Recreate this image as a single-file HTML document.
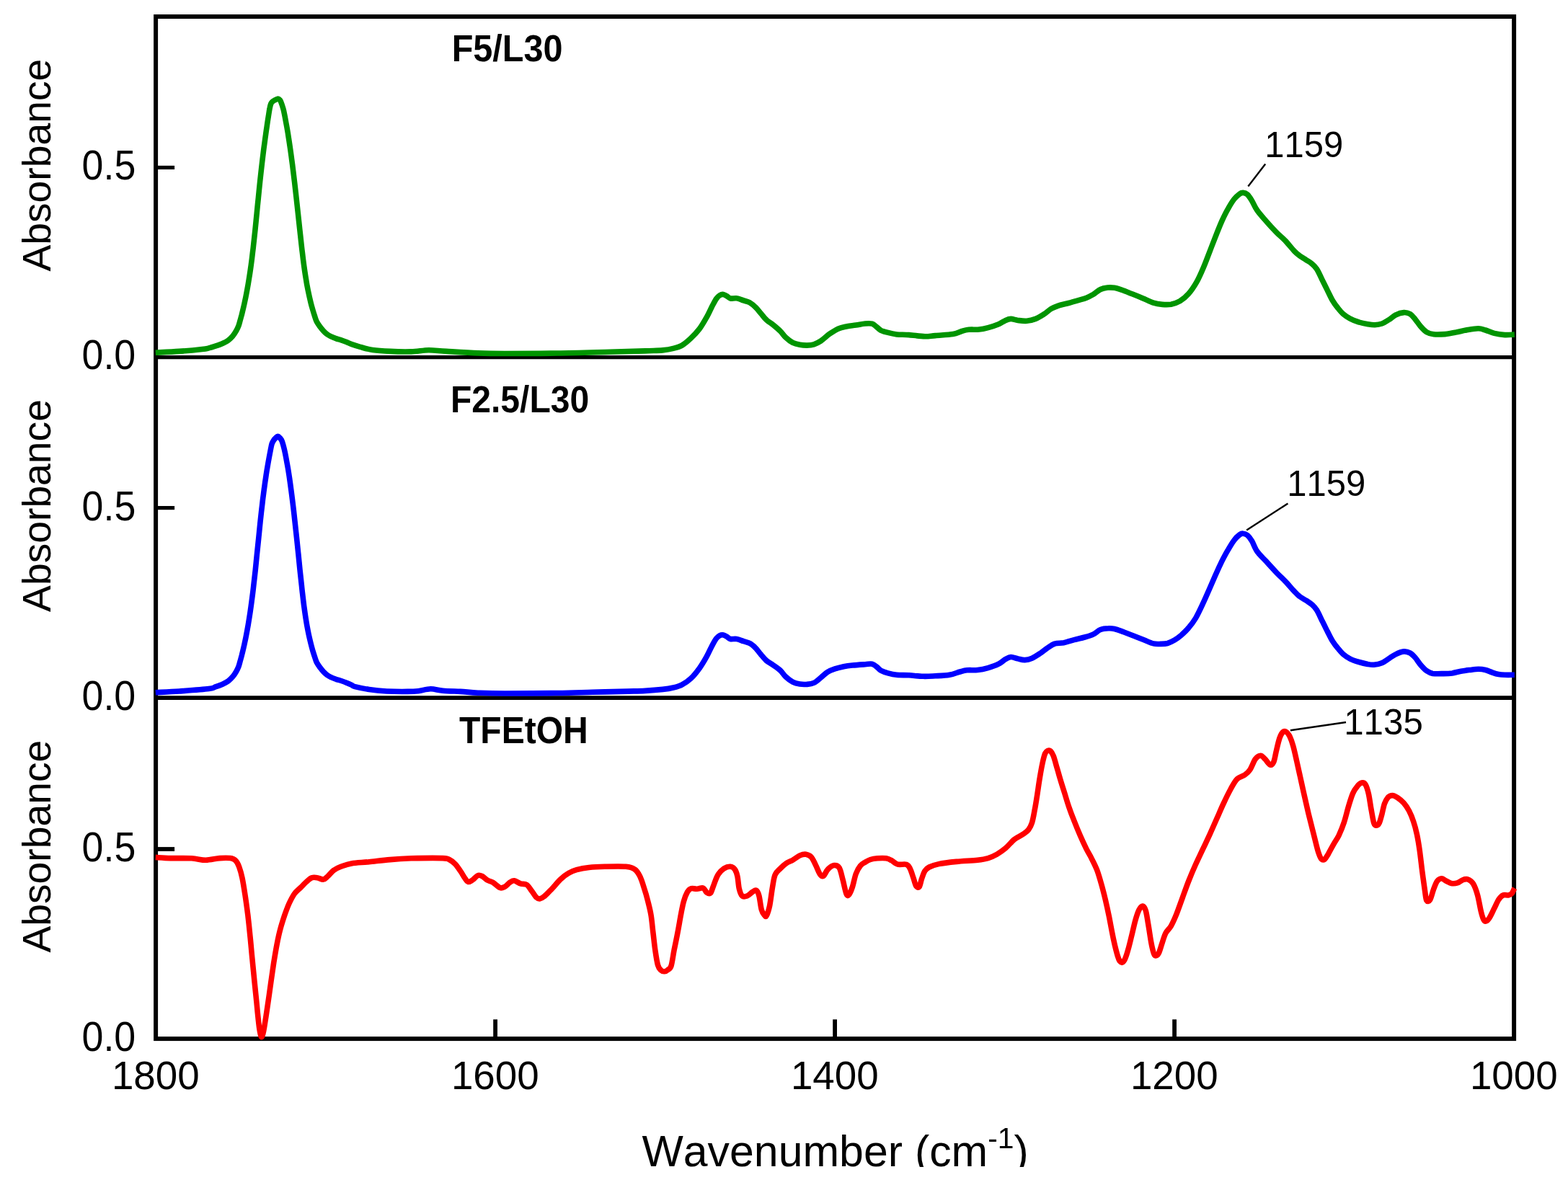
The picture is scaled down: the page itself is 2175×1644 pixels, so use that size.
<!DOCTYPE html>
<html lang="en"><head><meta charset="utf-8"><title>FTIR spectra</title>
<style>html,body{margin:0;padding:0;background:#fff}svg{display:block}</style></head>
<body>
<svg width="2175" height="1644" viewBox="0 0 2175 1644" font-family="'Liberation Sans', Arial, Helvetica, sans-serif" fill="#000" style="font-kerning:none">
<rect width="2175" height="1644" fill="#fff"/>
<g stroke="#000" fill="none">
<rect x="216.1" y="23.0" width="1884.0" height="1418.1" stroke-width="6"/>
<line x1="216.1" x2="2100.1" y1="495.7" y2="495.7" stroke-width="5.2"/>
<line x1="216.1" x2="2100.1" y1="968.2" y2="968.2" stroke-width="5.8"/>
<line x1="216.1" x2="242.1" y1="232.45" y2="232.45" stroke-width="5.2"/>
<line x1="216.1" x2="242.1" y1="704.6" y2="704.6" stroke-width="5.2"/>
<line x1="216.1" x2="242.1" y1="1178.0" y2="1178.0" stroke-width="5.8"/>
<line x1="687.1" x2="687.1" y1="1441.1" y2="1414.3" stroke-width="5.8"/>
<line x1="1158.1" x2="1158.1" y1="1441.1" y2="1414.3" stroke-width="5.8"/>
<line x1="1629.1" x2="1629.1" y1="1441.1" y2="1414.3" stroke-width="5.8"/>
</g>
<g fill="none" stroke-width="7.6" stroke-linejoin="round" stroke-linecap="butt">
<path stroke="#009400" d="M215.8 489.2C221.3 488.9 238.0 488.2 248.7 487.4C259.5 486.7 273.6 485.3 280.4 484.5C287.2 483.8 286.5 483.7 289.7 482.9C292.9 482.1 296.2 481.0 299.5 479.9C302.8 478.8 306.4 477.6 309.2 476.3C312.0 475.0 314.3 473.9 316.5 472.2C318.7 470.5 320.7 468.6 322.6 466.4C324.5 464.2 326.3 461.4 327.7 458.9C329.1 456.4 330.2 454.0 331.1 451.6C332.0 449.2 332.5 446.7 333.2 444.3C333.9 441.9 334.5 439.4 335.2 437.0C335.8 434.6 336.4 432.3 337.0 429.7C337.6 427.1 337.9 426.0 338.9 421.5C339.9 417.0 341.6 408.7 342.7 402.6C343.9 396.5 344.8 390.9 345.7 385.0C346.7 379.1 347.5 373.2 348.3 367.5C349.1 361.8 349.9 355.0 350.4 350.5C351.0 346.0 351.0 345.8 351.6 340.4C352.2 335.0 353.2 325.7 354.0 318.3C354.7 310.9 355.5 303.6 356.2 296.2C356.9 288.8 357.6 281.5 358.4 274.1C359.1 266.8 359.9 258.5 360.6 252.1C361.3 245.7 361.8 240.9 362.4 235.7C363.0 230.5 363.5 225.9 364.1 221.0C364.7 216.1 365.3 211.2 365.9 206.3C366.6 201.4 367.2 196.5 367.9 191.6C368.6 186.7 369.2 181.8 370.0 176.9C370.7 172.0 371.5 166.5 372.2 162.2C372.9 157.9 373.4 154.1 374.0 151.1C374.5 148.1 375.1 145.8 375.7 144.2C376.3 142.6 376.4 142.5 377.3 141.6C378.2 140.7 379.7 139.7 381.0 139.0C382.3 138.3 383.9 137.4 385.0 137.2C386.1 137.0 386.7 137.4 387.4 138.0C388.1 138.6 388.5 138.4 389.4 140.6C390.3 142.8 391.9 147.5 392.9 151.1C393.9 154.7 394.4 157.9 395.3 162.2C396.1 166.5 397.1 172.0 398.0 176.9C398.9 181.8 399.7 186.7 400.4 191.6C401.2 196.5 401.9 201.4 402.6 206.3C403.3 211.2 404.0 216.1 404.6 221.0C405.3 225.9 405.9 230.5 406.5 235.7C407.2 240.9 407.7 245.7 408.5 252.1C409.2 258.5 410.2 266.8 411.0 274.1C411.8 281.5 412.6 288.8 413.4 296.2C414.2 303.6 415.0 310.9 415.8 318.3C416.6 325.7 417.6 335.0 418.2 340.4C418.8 345.8 418.8 346.0 419.4 350.5C419.9 355.0 420.7 361.8 421.5 367.5C422.3 373.2 423.1 379.1 424.1 385.0C425.0 390.9 426.0 396.8 427.2 402.6C428.4 408.4 430.0 415.5 431.1 420.0C432.2 424.5 432.9 426.6 433.8 429.7C434.7 432.8 435.6 435.7 436.5 438.5C437.4 441.3 438.0 443.8 439.3 446.3C440.6 448.8 442.5 451.4 444.1 453.6C445.7 455.8 447.3 457.7 448.9 459.4C450.5 461.1 452.2 462.6 453.8 463.8C455.4 465.0 456.7 465.7 458.7 466.7C460.7 467.7 463.6 468.8 466.0 469.6C468.4 470.5 470.9 471.0 473.3 471.8C475.7 472.6 478.2 473.5 480.6 474.5C483.0 475.5 484.7 476.6 487.9 477.7C491.1 478.8 494.9 480.1 499.7 481.4C504.5 482.7 509.9 484.5 516.8 485.5C523.7 486.5 532.2 487.0 541.1 487.4C550.1 487.9 561.5 488.2 570.4 487.9C579.3 487.7 586.6 485.8 594.8 485.7C602.9 485.7 607.8 486.8 619.1 487.4C630.5 488.1 649.5 489.4 663.0 489.9C676.5 490.4 681.6 490.5 700.0 490.5C718.4 490.5 748.7 490.4 773.1 490.0C797.5 489.7 825.9 488.8 846.2 488.3C866.5 487.8 882.8 487.3 894.9 486.9C907.1 486.4 912.8 486.4 919.3 485.9C925.8 485.3 929.5 484.6 933.9 483.4C938.4 482.3 942.1 481.4 946.1 479.1C950.2 476.7 954.2 473.2 958.3 469.3C962.4 465.5 966.8 460.8 970.5 455.9C974.1 451.0 977.4 445.1 980.2 440.1C983.1 435.0 985.3 429.7 987.5 425.4C989.8 421.2 991.8 417.1 993.6 414.5C995.5 411.8 996.9 410.6 998.5 409.6C1000.1 408.6 1001.8 408.2 1003.4 408.4C1005.0 408.6 1006.6 409.9 1008.3 410.8C1009.9 411.8 1010.9 413.5 1013.1 414.0C1015.4 414.5 1018.6 413.3 1021.7 413.8C1024.7 414.2 1028.4 415.9 1031.4 416.9C1034.4 417.9 1037.1 418.2 1039.9 419.8C1042.8 421.5 1045.8 424.1 1048.5 426.7C1051.1 429.2 1053.3 432.4 1055.8 435.2C1058.2 438.0 1060.2 441.1 1063.1 443.7C1065.9 446.4 1069.6 448.4 1072.8 451.0C1076.1 453.7 1079.7 456.7 1082.6 459.6C1085.4 462.4 1087.0 465.5 1089.9 468.1C1092.7 470.7 1096.4 473.7 1099.6 475.4C1102.9 477.1 1106.1 477.7 1109.4 478.3C1112.6 478.9 1115.9 479.1 1119.1 479.1C1122.4 479.0 1125.6 478.9 1128.9 477.8C1132.1 476.8 1135.0 475.4 1138.6 473.0C1142.3 470.5 1146.7 466.1 1150.8 463.2C1154.9 460.4 1158.9 457.7 1163.0 455.9C1167.0 454.2 1171.1 453.6 1175.2 452.7C1179.2 451.9 1183.2 451.7 1187.4 451.0C1191.5 450.4 1196.3 449.3 1200.0 449.0C1203.7 448.7 1207.1 448.5 1209.7 449.2C1212.4 450.0 1213.8 451.9 1215.8 453.4C1217.9 454.9 1219.3 456.9 1221.9 458.3C1224.6 459.6 1228.0 460.5 1231.7 461.4C1235.3 462.4 1239.0 463.3 1243.9 463.9C1248.7 464.4 1254.4 464.1 1260.9 464.6C1267.4 465.1 1276.8 466.6 1282.9 466.8C1288.9 466.9 1291.0 466.1 1297.5 465.6C1304.0 465.0 1315.7 464.6 1321.8 463.6C1327.9 462.6 1330.4 460.5 1334.0 459.5C1337.7 458.4 1339.7 457.7 1343.8 457.3C1347.8 456.9 1353.9 457.5 1358.4 457.0C1362.9 456.6 1366.1 455.8 1370.6 454.6C1375.0 453.4 1381.1 451.4 1385.2 449.7C1389.3 448.0 1392.1 445.6 1394.9 444.4C1397.8 443.1 1399.4 442.4 1402.3 442.4C1405.1 442.4 1408.3 443.9 1412.0 444.4C1415.7 444.9 1420.1 445.7 1424.2 445.3C1428.2 445.0 1432.3 444.0 1436.4 442.4C1440.4 440.8 1444.9 437.9 1448.6 435.6C1452.2 433.2 1455.0 430.2 1458.3 428.3C1461.5 426.4 1464.4 425.4 1468.0 424.1C1471.7 422.9 1475.8 422.2 1480.2 421.0C1484.7 419.8 1490.4 418.1 1494.9 416.8C1499.3 415.5 1503.4 414.6 1507.0 413.2C1510.7 411.8 1513.5 410.2 1516.8 408.3C1520.0 406.3 1523.3 403.0 1526.5 401.5C1529.8 399.9 1533.0 399.4 1536.3 399.0C1539.5 398.7 1542.8 398.8 1546.0 399.3C1549.3 399.8 1551.7 400.8 1555.8 402.2C1559.8 403.6 1565.5 405.9 1570.4 407.8C1575.3 409.7 1580.1 411.6 1585.0 413.7C1589.9 415.7 1595.5 418.8 1600.0 420.2C1604.5 421.7 1608.1 422.1 1612.2 422.4C1616.2 422.7 1620.3 422.9 1624.4 422.2C1628.4 421.4 1632.5 420.2 1636.6 417.8C1640.6 415.3 1644.9 411.9 1648.7 407.5C1652.6 403.2 1656.2 397.8 1659.7 391.7C1663.2 385.6 1666.4 378.1 1669.4 371.0C1672.5 363.9 1675.1 356.4 1678.0 349.1C1680.8 341.7 1683.7 334.2 1686.5 327.1C1689.3 320.0 1692.2 312.7 1695.0 306.4C1697.9 300.1 1700.7 294.4 1703.6 289.4C1706.4 284.3 1709.5 279.3 1712.1 276.0C1714.7 272.6 1717.4 270.6 1719.4 269.1C1721.4 267.7 1722.4 267.3 1724.3 267.4C1726.1 267.5 1728.3 268.0 1730.4 269.9C1732.4 271.7 1734.2 274.7 1736.5 278.4C1738.7 282.0 1740.5 287.1 1743.8 291.8C1747.0 296.5 1751.5 301.3 1756.0 306.4C1760.4 311.5 1766.1 317.7 1770.6 322.3C1775.0 326.8 1778.7 329.7 1782.8 333.9C1786.8 338.2 1791.7 344.4 1794.9 347.8C1798.2 351.3 1799.4 352.3 1802.3 354.4C1805.1 356.6 1809.2 358.9 1812.0 360.8C1814.8 362.6 1816.9 363.5 1819.3 365.6C1821.7 367.7 1824.2 369.7 1826.6 373.4C1829.1 377.2 1831.5 383.2 1833.9 388.0C1836.4 392.9 1838.8 397.8 1841.2 402.7C1843.7 407.5 1846.1 413.1 1848.6 417.3C1851.0 421.4 1853.4 424.5 1855.9 427.5C1858.3 430.6 1860.3 433.1 1863.2 435.6C1866.0 438.0 1869.3 440.2 1872.9 442.1C1876.6 444.1 1881.0 445.8 1885.1 447.0C1889.2 448.3 1893.6 449.1 1897.3 449.7C1900.9 450.3 1903.8 450.8 1907.0 450.7C1910.3 450.5 1913.5 450.1 1916.8 449.0C1920.0 447.8 1923.3 445.6 1926.5 443.6C1929.8 441.6 1932.8 438.4 1936.3 436.8C1939.7 435.1 1944.0 433.8 1947.2 433.6C1950.5 433.4 1953.1 434.0 1955.8 435.6C1958.4 437.1 1960.6 440.0 1963.1 442.9C1965.5 445.7 1967.8 449.7 1970.4 452.6C1973.0 455.6 1975.9 458.8 1978.9 460.7C1982.0 462.5 1984.4 463.3 1988.7 463.8C1992.9 464.3 1999.4 464.0 2004.5 463.6C2009.6 463.1 2013.8 462.2 2019.1 461.1C2024.4 460.1 2030.9 458.4 2036.2 457.5C2041.5 456.6 2046.7 455.7 2050.8 455.8C2054.9 455.9 2056.9 456.9 2060.6 458.0C2064.2 459.1 2068.3 461.3 2072.7 462.4C2077.2 463.5 2082.7 464.3 2087.4 464.6C2092.0 464.8 2098.5 464.2 2100.8 464.1"/>
<path stroke="#0000ff" d="M215.8 960.7C221.3 960.4 236.4 959.8 248.7 959.0C261.0 958.1 281.2 956.7 289.7 955.6C298.2 954.5 296.2 953.7 299.5 952.6C302.8 951.5 306.4 950.3 309.2 949.0C312.0 947.7 314.3 946.5 316.5 944.9C318.7 943.2 320.7 941.3 322.6 939.1C324.5 936.9 326.3 934.1 327.7 931.6C329.1 929.1 330.2 926.7 331.1 924.3C332.0 921.9 332.5 919.4 333.2 917.0C333.9 914.6 334.5 912.1 335.2 909.7C335.8 907.3 336.4 905.0 337.0 902.4C337.6 899.8 337.9 898.7 338.9 894.2C339.9 889.7 341.6 881.4 342.7 875.3C343.9 869.2 344.8 863.6 345.7 857.7C346.7 851.9 347.5 846.0 348.3 840.2C349.1 834.4 350.0 827.3 350.6 822.7C351.2 818.1 351.2 817.8 351.8 812.4C352.4 807.0 353.5 797.7 354.3 790.3C355.0 782.9 355.8 775.6 356.5 768.2C357.3 760.9 358.0 753.6 358.8 746.2C359.5 738.9 360.4 730.5 361.0 724.1C361.7 717.7 362.2 712.9 362.8 707.7C363.4 702.5 364.0 697.9 364.5 693.0C365.1 688.1 365.8 683.2 366.4 678.3C367.1 673.4 367.7 668.5 368.5 663.6C369.2 658.7 369.9 653.8 370.8 648.9C371.6 644.0 372.6 638.4 373.4 634.1C374.2 629.8 374.9 626.2 375.5 623.1C376.2 620.0 376.4 617.9 377.1 615.8C377.8 613.7 378.9 612.0 379.8 610.6C380.7 609.2 381.7 608.3 382.6 607.4C383.5 606.5 384.4 605.4 385.4 605.4C386.3 605.4 387.3 606.5 388.3 607.6C389.3 608.7 390.2 609.5 391.2 612.1C392.2 614.7 393.4 619.4 394.3 623.1C395.2 626.8 395.8 629.8 396.6 634.1C397.4 638.4 398.4 644.0 399.3 648.9C400.1 653.8 400.9 658.7 401.6 663.6C402.3 668.5 403.0 673.4 403.6 678.3C404.3 683.2 404.9 688.1 405.5 693.0C406.1 697.9 406.7 702.5 407.3 707.7C407.9 712.9 408.4 717.7 409.1 724.1C409.8 730.5 410.7 738.9 411.5 746.2C412.3 753.6 413.0 760.9 413.8 768.2C414.5 775.6 415.3 782.9 416.0 790.3C416.8 797.7 417.8 807.0 418.4 812.4C418.9 817.8 419.0 818.1 419.5 822.7C420.0 827.3 420.9 834.4 421.6 840.2C422.4 846.0 423.2 851.9 424.1 857.7C425.0 863.6 426.0 869.5 427.2 875.3C428.3 881.1 430.0 888.2 431.1 892.7C432.2 897.2 432.8 899.3 433.7 902.4C434.6 905.5 435.6 908.4 436.5 911.2C437.4 914.0 438.1 916.5 439.3 919.0C440.6 921.5 442.5 924.1 444.1 926.3C445.7 928.5 447.3 930.4 448.9 932.1C450.5 933.8 452.2 935.3 453.8 936.5C455.4 937.7 456.7 938.4 458.7 939.4C460.7 940.4 463.6 941.4 466.0 942.3C468.4 943.1 470.9 943.7 473.3 944.5C475.7 945.3 478.2 946.2 480.6 947.2C483.0 948.2 485.9 949.5 487.9 950.4C489.9 951.3 488.4 951.6 492.4 952.6C496.4 953.6 504.6 955.5 511.9 956.5C519.2 957.6 527.3 958.5 536.3 959.0C545.2 959.4 558.2 959.5 565.5 959.4C572.8 959.4 574.9 959.3 580.1 958.7C585.4 958.1 591.5 955.9 597.2 955.8C602.9 955.7 607.3 957.6 614.3 958.2C621.2 958.8 630.5 959.0 638.6 959.4C646.7 959.9 652.8 960.7 663.0 961.2C673.2 961.6 681.6 962.0 700.0 962.0C718.4 962.1 752.8 961.8 773.1 961.5C793.4 961.3 805.6 960.7 821.8 960.3C838.1 959.9 858.4 959.4 870.6 959.1C882.8 958.8 886.8 958.8 894.9 958.4C903.1 957.9 912.8 957.1 919.3 956.4C925.8 955.7 929.5 955.1 933.9 954.0C938.4 952.9 942.1 952.0 946.1 949.8C950.2 947.7 954.2 945.2 958.3 941.3C962.4 937.5 966.8 931.8 970.5 926.7C974.1 921.6 977.4 915.9 980.2 910.9C983.1 905.8 985.3 900.4 987.5 896.2C989.8 892.0 991.8 888.2 993.6 885.8C995.5 883.3 996.9 882.4 998.5 881.6C1000.1 880.8 1001.8 880.6 1003.4 880.9C1005.0 881.2 1006.6 882.4 1008.3 883.3C1009.9 884.2 1010.9 886.0 1013.1 886.5C1015.4 887.0 1018.6 886.0 1021.7 886.5C1024.7 887.0 1028.2 888.6 1031.4 889.7C1034.7 890.7 1038.3 891.4 1041.1 893.1C1044.0 894.7 1046.0 896.8 1048.5 899.4C1050.9 902.0 1053.3 905.6 1055.8 908.4C1058.2 911.3 1060.2 914.0 1063.1 916.5C1065.9 918.9 1069.6 920.7 1072.8 923.0C1076.1 925.3 1079.7 927.7 1082.6 930.3C1085.4 933.0 1087.0 936.2 1089.9 938.9C1092.7 941.5 1096.4 944.5 1099.6 946.2C1102.9 947.9 1106.1 948.6 1109.4 949.1C1112.6 949.6 1115.9 949.6 1119.1 949.4C1122.4 949.1 1125.6 948.9 1128.9 947.4C1132.1 945.9 1135.4 942.7 1138.6 940.1C1141.9 937.5 1145.1 934.1 1148.4 932.1C1151.6 930.0 1154.5 929.1 1158.1 927.9C1161.8 926.7 1166.2 925.6 1170.3 924.7C1174.4 923.9 1177.5 923.5 1182.5 923.0C1187.4 922.5 1195.5 922.0 1200.0 921.7C1204.5 921.4 1207.1 920.7 1209.7 921.2C1212.4 921.8 1213.8 923.4 1215.8 924.9C1217.9 926.4 1219.3 928.8 1221.9 930.3C1224.6 931.8 1228.0 932.9 1231.7 933.9C1235.3 934.9 1239.0 935.9 1243.9 936.3C1248.7 936.8 1254.8 936.5 1260.9 936.8C1267.0 937.2 1274.3 938.1 1280.4 938.3C1286.5 938.5 1291.4 938.1 1297.5 937.8C1303.6 937.5 1311.3 937.3 1317.0 936.3C1322.7 935.4 1327.5 933.1 1331.6 932.0C1335.6 930.9 1337.3 930.2 1341.3 929.8C1345.4 929.4 1351.1 930.0 1356.0 929.5C1360.8 929.0 1365.7 928.0 1370.6 926.6C1375.4 925.2 1381.1 923.3 1385.2 921.2C1389.3 919.2 1392.1 916.0 1394.9 914.4C1397.8 912.8 1399.4 911.6 1402.3 911.5C1405.1 911.4 1408.8 913.2 1412.0 913.9C1415.2 914.6 1418.5 915.8 1421.7 915.6C1425.0 915.5 1427.8 914.8 1431.5 913.2C1435.1 911.6 1440.0 908.3 1443.7 905.9C1447.3 903.4 1450.2 900.7 1453.4 898.6C1456.7 896.4 1459.5 894.1 1463.2 893.0C1466.8 891.8 1470.9 892.6 1475.4 891.8C1479.8 890.9 1485.1 888.9 1490.0 887.6C1494.9 886.3 1500.1 885.3 1504.6 884.0C1509.1 882.7 1513.1 881.6 1516.8 879.8C1520.4 878.1 1523.1 874.8 1526.5 873.5C1530.0 872.1 1534.2 871.9 1537.5 871.8C1540.7 871.6 1542.6 871.7 1546.0 872.5C1549.5 873.3 1553.7 875.0 1558.2 876.6C1562.7 878.3 1568.0 880.3 1572.8 882.2C1577.7 884.2 1582.9 886.3 1587.4 888.1C1592.0 889.9 1596.3 892.1 1600.0 892.9C1603.7 893.8 1606.5 893.5 1609.7 893.4C1613.0 893.3 1616.2 893.3 1619.5 892.5C1622.7 891.6 1626.0 890.0 1629.2 888.1C1632.5 886.1 1635.7 883.6 1639.0 880.8C1642.2 877.9 1645.5 874.9 1648.7 871.0C1652.0 867.2 1655.2 863.1 1658.5 857.6C1661.7 852.1 1665.0 845.0 1668.2 838.1C1671.5 831.2 1674.9 823.1 1678.0 816.2C1681.0 809.3 1683.7 803.0 1686.5 796.7C1689.3 790.4 1692.2 784.1 1695.0 778.4C1697.9 772.7 1700.7 767.4 1703.6 762.6C1706.4 757.7 1709.5 752.6 1712.1 749.2C1714.7 745.7 1717.4 743.4 1719.4 741.9C1721.4 740.4 1722.4 740.0 1724.3 740.2C1726.1 740.3 1728.3 740.9 1730.4 742.6C1732.4 744.3 1734.2 746.7 1736.5 750.4C1738.7 754.1 1740.5 760.3 1743.8 765.0C1747.0 769.7 1751.5 773.5 1756.0 778.4C1760.4 783.3 1766.1 789.6 1770.6 794.3C1775.0 798.9 1778.7 802.2 1782.8 806.4C1786.8 810.7 1791.7 816.4 1794.9 819.8C1798.2 823.3 1799.4 824.9 1802.3 827.1C1805.1 829.4 1809.0 831.2 1812.0 833.2C1815.0 835.3 1818.1 837.1 1820.5 839.3C1823.0 841.6 1824.4 843.0 1826.6 846.6C1828.9 850.3 1831.5 856.4 1833.9 861.3C1836.4 866.1 1838.8 871.1 1841.2 875.9C1843.7 880.6 1846.1 885.8 1848.6 889.8C1851.0 893.7 1853.4 896.6 1855.9 899.5C1858.3 902.5 1860.3 905.1 1863.2 907.6C1866.0 910.0 1869.3 912.3 1872.9 914.1C1876.6 916.0 1881.0 917.3 1885.1 918.5C1889.2 919.7 1893.8 920.8 1897.3 921.5C1900.7 922.1 1902.6 922.5 1905.8 922.2C1909.1 921.9 1913.3 921.2 1916.8 919.7C1920.2 918.3 1923.3 915.7 1926.5 913.7C1929.8 911.6 1932.8 909.2 1936.3 907.6C1939.7 905.9 1944.0 904.2 1947.2 903.9C1950.5 903.6 1953.1 904.4 1955.8 905.9C1958.4 907.3 1960.6 909.7 1963.1 912.4C1965.5 915.2 1967.8 919.1 1970.4 922.2C1973.0 925.2 1976.1 928.7 1978.9 930.7C1981.8 932.7 1983.6 933.7 1987.4 934.4C1991.3 935.0 1997.6 934.7 2002.1 934.6C2006.5 934.5 2010.2 934.4 2014.3 933.9C2018.3 933.3 2022.4 931.9 2026.4 931.2C2030.5 930.5 2034.6 930.0 2038.6 929.5C2042.7 929.0 2047.1 928.3 2050.8 928.3C2054.5 928.3 2057.3 928.7 2060.6 929.5C2063.8 930.3 2067.3 932.1 2070.3 933.1C2073.3 934.2 2076.0 935.1 2078.8 935.6C2081.7 936.1 2083.7 936.2 2087.4 936.3C2091.0 936.4 2098.5 936.3 2100.8 936.3"/>
<path stroke="#ff0000" d="M215.8 1189.4C219.3 1189.6 228.2 1190.4 236.6 1190.6C244.9 1190.8 257.7 1190.4 265.8 1190.8C273.9 1191.3 278.8 1193.3 285.3 1193.3C291.8 1193.2 299.1 1191.0 304.8 1190.6C310.5 1190.2 315.7 1190.1 319.4 1190.6C323.1 1191.1 324.7 1191.8 326.7 1193.8C328.7 1195.7 330.0 1198.2 331.6 1202.3C333.1 1206.4 334.6 1211.4 336.0 1218.1C337.4 1224.8 338.8 1234.0 340.1 1242.5C341.4 1251.0 342.6 1260.0 343.8 1269.3C344.9 1278.7 345.9 1288.4 346.9 1298.6C348.0 1308.7 348.8 1319.7 349.9 1330.2C350.9 1340.8 352.0 1351.8 353.0 1361.9C354.0 1372.1 355.1 1382.2 356.0 1391.1C356.8 1400.1 357.7 1409.0 358.4 1415.5C359.1 1422.0 359.6 1426.3 360.3 1430.1C361.1 1434.0 361.9 1438.7 362.8 1438.7C363.7 1438.7 364.7 1434.8 365.7 1430.1C366.7 1425.5 367.7 1418.0 368.9 1410.6C370.0 1403.3 371.3 1394.4 372.5 1386.3C373.7 1378.2 374.7 1370.4 375.9 1361.9C377.2 1353.4 378.5 1343.6 379.8 1335.1C381.2 1326.6 382.5 1318.5 384.0 1310.7C385.5 1303.0 387.0 1295.7 388.9 1288.8C390.7 1281.9 392.9 1275.2 394.9 1269.3C397.0 1263.4 398.8 1258.3 401.0 1253.5C403.3 1248.6 405.7 1243.7 408.3 1240.1C411.0 1236.4 414.0 1234.4 416.9 1231.5C419.7 1228.7 422.8 1225.3 425.4 1223.0C428.0 1220.7 430.3 1218.5 432.7 1217.7C435.1 1216.8 437.4 1217.2 440.0 1217.7C442.7 1218.1 446.1 1220.4 448.6 1220.1C451.0 1219.8 452.2 1217.9 454.6 1215.7C457.1 1213.5 460.1 1209.4 463.2 1207.2C466.2 1204.9 468.9 1203.8 472.9 1202.3C477.0 1200.8 481.0 1199.0 487.5 1197.9C494.0 1196.8 503.0 1196.6 511.9 1195.7C520.8 1194.8 531.4 1193.4 541.1 1192.6C550.9 1191.7 558.2 1191.2 570.4 1190.8C582.6 1190.5 605.3 1190.2 614.3 1190.6C623.2 1191.0 621.2 1191.7 624.0 1193.0C626.8 1194.4 628.9 1196.1 631.3 1198.6C633.7 1201.2 636.4 1205.1 638.6 1208.4C640.9 1211.6 642.9 1215.6 644.7 1218.1C646.5 1220.7 647.8 1223.1 649.6 1223.5C651.4 1223.9 653.4 1222.1 655.7 1220.6C657.9 1219.1 660.8 1215.3 663.0 1214.5C665.2 1213.7 666.8 1214.6 669.1 1215.7C671.3 1216.8 674.0 1219.9 676.4 1221.3C678.8 1222.7 680.9 1222.5 683.7 1224.2C686.5 1225.9 690.7 1230.5 693.4 1231.5C696.2 1232.6 697.7 1231.5 700.0 1230.3C702.3 1229.1 705.1 1225.7 707.3 1224.2C709.5 1222.8 711.0 1221.5 713.4 1221.8C715.8 1222.1 719.1 1225.0 721.9 1225.9C724.8 1226.9 727.8 1225.7 730.5 1227.4C733.1 1229.1 735.5 1233.5 737.8 1236.4C740.0 1239.3 742.0 1243.2 743.9 1244.9C745.7 1246.7 746.9 1247.1 748.7 1246.9C750.6 1246.7 752.0 1246.1 754.8 1243.7C757.7 1241.4 761.9 1236.8 765.8 1232.8C769.7 1228.7 774.1 1222.9 778.0 1219.4C781.8 1215.8 785.3 1213.4 788.9 1211.3C792.6 1209.2 795.2 1208.0 799.9 1206.7C804.6 1205.4 810.5 1204.2 817.0 1203.5C823.5 1202.8 830.4 1202.5 838.9 1202.3C847.4 1202.1 861.2 1201.7 868.1 1202.3C875.0 1202.9 877.1 1203.7 880.3 1206.0C883.6 1208.2 885.4 1211.2 887.6 1215.7C889.9 1220.2 891.9 1227.1 893.7 1232.8C895.6 1238.4 897.1 1243.7 898.6 1249.8C900.1 1255.9 901.8 1262.0 903.0 1269.3C904.2 1276.6 904.9 1285.6 905.9 1293.7C906.9 1301.8 907.7 1310.5 908.8 1318.0C909.9 1325.6 911.1 1334.1 912.5 1338.8C913.8 1343.4 915.3 1344.6 916.9 1346.1C918.4 1347.6 920.1 1347.9 921.7 1347.8C923.4 1347.7 925.1 1346.6 926.6 1345.3C928.2 1344.0 929.6 1344.5 931.0 1340.0C932.4 1335.4 933.6 1325.8 935.1 1318.0C936.7 1310.3 938.5 1301.8 940.0 1293.7C941.6 1285.6 943.0 1276.6 944.4 1269.3C945.8 1262.0 947.0 1255.1 948.6 1249.8C950.1 1244.5 951.8 1240.5 953.4 1237.6C955.0 1234.8 956.1 1233.5 958.3 1232.8C960.5 1232.0 964.0 1233.4 966.8 1233.2C969.7 1233.1 973.1 1231.2 975.4 1232.0C977.6 1232.8 978.5 1237.0 980.2 1238.1C981.9 1239.3 984.0 1240.6 985.6 1238.9C987.2 1237.1 988.2 1232.1 990.0 1227.9C991.7 1223.6 993.6 1217.1 996.1 1213.3C998.5 1209.4 1001.8 1206.6 1004.6 1204.7C1007.4 1202.9 1010.7 1202.1 1013.1 1202.3C1015.6 1202.5 1017.6 1203.7 1019.2 1206.0C1020.8 1208.2 1021.9 1211.2 1022.9 1215.7C1023.9 1220.2 1024.2 1228.2 1025.3 1232.8C1026.4 1237.3 1027.6 1241.3 1029.5 1243.0C1031.3 1244.7 1033.9 1243.9 1036.3 1243.0C1038.6 1242.1 1041.5 1238.9 1043.6 1237.6C1045.7 1236.3 1047.4 1234.4 1048.9 1235.2C1050.5 1236.0 1051.6 1238.0 1052.8 1242.5C1054.1 1247.0 1055.0 1257.5 1056.3 1262.0C1057.5 1266.5 1059.0 1267.9 1060.2 1269.3C1061.3 1270.7 1061.9 1272.6 1063.1 1270.5C1064.3 1268.5 1066.0 1263.8 1067.5 1257.1C1068.9 1250.4 1070.3 1237.6 1071.6 1230.3C1072.9 1223.0 1073.4 1217.5 1075.3 1213.3C1077.1 1209.0 1079.9 1207.4 1082.6 1204.7C1085.2 1202.1 1088.3 1199.3 1091.1 1197.4C1093.9 1195.5 1096.6 1195.0 1099.6 1193.3C1102.7 1191.5 1106.3 1188.3 1109.4 1186.9C1112.4 1185.6 1115.3 1184.9 1117.9 1185.2C1120.5 1185.6 1123.0 1186.5 1125.2 1188.9C1127.5 1191.3 1129.3 1195.9 1131.3 1199.9C1133.3 1203.8 1135.6 1210.2 1137.4 1212.8C1139.2 1215.3 1140.4 1216.4 1142.3 1215.2C1144.1 1214.1 1145.9 1208.4 1148.4 1206.0C1150.8 1203.5 1154.3 1200.9 1156.9 1200.6C1159.5 1200.3 1162.2 1200.7 1164.2 1204.0C1166.2 1207.3 1167.5 1214.6 1169.1 1220.6C1170.7 1226.6 1172.5 1236.6 1174.0 1240.1C1175.4 1243.5 1176.2 1242.9 1177.6 1241.3C1179.0 1239.7 1180.9 1235.2 1182.5 1230.3C1184.1 1225.4 1185.5 1216.9 1187.4 1212.0C1189.2 1207.2 1191.3 1203.7 1193.4 1201.1C1195.6 1198.4 1197.7 1197.6 1200.0 1196.2C1202.3 1194.7 1204.5 1193.4 1207.3 1192.5C1210.2 1191.6 1213.4 1191.1 1217.1 1190.8C1220.7 1190.5 1226.0 1190.3 1229.2 1190.8C1232.5 1191.3 1233.9 1192.3 1236.6 1193.7C1239.2 1195.1 1241.6 1198.2 1245.1 1199.1C1248.5 1200.0 1254.4 1198.4 1257.3 1199.3C1260.1 1200.3 1260.5 1201.6 1262.1 1204.7C1263.8 1207.8 1265.6 1214.0 1267.0 1218.1C1268.4 1222.2 1269.3 1227.0 1270.7 1229.1C1272.0 1231.1 1273.8 1231.9 1275.1 1230.3C1276.4 1228.7 1277.2 1223.0 1278.5 1219.3C1279.8 1215.7 1281.1 1211.1 1282.9 1208.3C1284.6 1205.6 1285.7 1204.6 1288.9 1203.0C1292.2 1201.4 1296.0 1199.9 1302.3 1198.6C1308.6 1197.3 1317.8 1196.3 1326.7 1195.4C1335.6 1194.5 1348.6 1194.0 1356.0 1193.2C1363.3 1192.4 1366.1 1191.9 1370.6 1190.6C1375.0 1189.2 1378.7 1187.5 1382.8 1185.2C1386.8 1182.9 1390.9 1180.1 1394.9 1176.7C1399.0 1173.2 1403.1 1167.7 1407.1 1164.5C1411.2 1161.2 1416.1 1159.4 1419.3 1157.2C1422.6 1154.9 1424.6 1153.7 1426.6 1151.1C1428.7 1148.4 1430.1 1145.8 1431.5 1141.3C1432.9 1136.9 1433.9 1130.8 1435.1 1124.3C1436.4 1117.8 1437.6 1110.1 1438.8 1102.3C1440.0 1094.6 1441.2 1085.3 1442.5 1078.0C1443.7 1070.7 1444.9 1064.0 1446.1 1058.5C1447.3 1053.0 1448.6 1047.9 1449.8 1045.1C1451.0 1042.2 1452.2 1042.0 1453.4 1041.4C1454.6 1040.9 1455.8 1040.7 1457.1 1041.9C1458.4 1043.1 1459.8 1045.2 1461.2 1048.7C1462.6 1052.3 1464.1 1058.1 1465.6 1063.4C1467.2 1068.6 1468.7 1074.3 1470.5 1080.4C1472.3 1086.5 1474.5 1093.4 1476.6 1099.9C1478.6 1106.4 1480.4 1112.9 1482.7 1119.4C1484.9 1125.9 1487.3 1132.2 1490.0 1138.9C1492.6 1145.6 1495.7 1153.1 1498.5 1159.6C1501.3 1166.1 1504.4 1172.6 1507.0 1177.9C1509.7 1183.2 1511.9 1186.4 1514.3 1191.3C1516.8 1196.2 1519.4 1201.2 1521.7 1207.1C1523.9 1213.0 1525.8 1219.7 1527.7 1226.6C1529.7 1233.5 1531.6 1241.2 1533.4 1248.6C1535.1 1255.9 1536.7 1263.2 1538.2 1270.5C1539.7 1277.8 1541.0 1285.5 1542.4 1292.4C1543.7 1299.3 1545.2 1306.2 1546.5 1311.9C1547.9 1317.6 1549.3 1323.0 1550.4 1326.5C1551.5 1330.1 1552.2 1331.9 1553.3 1333.4C1554.4 1334.8 1555.8 1335.6 1557.0 1335.1C1558.2 1334.5 1559.3 1333.2 1560.6 1330.2C1562.0 1327.1 1563.5 1322.3 1565.0 1316.8C1566.6 1311.3 1568.2 1304.2 1569.9 1297.3C1571.6 1290.4 1573.6 1281.2 1575.3 1275.4C1577.0 1269.5 1578.5 1265.0 1580.1 1262.0C1581.8 1258.9 1583.5 1256.9 1585.0 1257.1C1586.5 1257.3 1587.9 1258.9 1589.2 1263.2C1590.5 1267.4 1591.6 1275.4 1592.8 1282.7C1594.1 1290.0 1595.5 1300.5 1596.7 1307.0C1597.9 1313.5 1599.1 1318.5 1600.1 1321.7C1601.2 1324.8 1601.7 1325.9 1602.9 1326.0C1604.1 1326.1 1605.8 1325.4 1607.3 1322.4C1608.9 1319.3 1610.6 1312.4 1612.2 1307.7C1613.8 1303.1 1615.0 1298.2 1617.1 1294.3C1619.1 1290.5 1621.9 1288.9 1624.4 1284.6C1626.8 1280.3 1629.0 1275.3 1631.7 1268.8C1634.3 1262.3 1637.4 1253.3 1640.2 1245.6C1643.0 1237.9 1645.7 1230.2 1648.7 1222.5C1651.8 1214.7 1655.2 1206.6 1658.5 1199.3C1661.7 1192.0 1665.0 1185.5 1668.2 1178.6C1671.5 1171.7 1674.7 1165.0 1678.0 1157.9C1681.2 1150.8 1684.5 1143.3 1687.7 1136.0C1691.0 1128.6 1694.2 1120.9 1697.5 1114.0C1700.7 1107.1 1704.2 1100.0 1707.2 1094.5C1710.3 1089.0 1712.5 1084.4 1715.7 1081.1C1719.0 1077.9 1723.7 1077.3 1726.7 1075.0C1729.8 1072.8 1731.6 1071.4 1734.0 1067.7C1736.5 1064.1 1738.9 1056.4 1741.3 1053.1C1743.8 1049.9 1746.4 1048.2 1748.6 1048.2C1750.9 1048.2 1752.5 1051.0 1754.7 1053.1C1757.0 1055.3 1760.0 1060.5 1762.0 1061.1C1764.1 1061.8 1765.5 1060.1 1766.9 1056.8C1768.3 1053.4 1769.2 1046.4 1770.6 1040.9C1771.9 1035.4 1773.5 1028.0 1775.0 1023.9C1776.4 1019.7 1777.6 1017.5 1779.1 1016.1C1780.6 1014.6 1782.4 1014.4 1784.0 1015.3C1785.6 1016.2 1787.2 1018.2 1788.9 1021.4C1790.5 1024.7 1792.1 1029.1 1793.7 1034.8C1795.3 1040.5 1797.0 1048.4 1798.6 1055.5C1800.2 1062.6 1801.8 1070.2 1803.5 1077.5C1805.1 1084.8 1806.5 1091.3 1808.3 1099.4C1810.2 1107.5 1812.4 1117.7 1814.4 1126.2C1816.5 1134.7 1818.7 1143.3 1820.5 1150.6C1822.4 1157.9 1824.0 1164.6 1825.4 1170.1C1826.8 1175.6 1827.8 1179.9 1829.1 1183.5C1830.3 1187.0 1831.3 1190.1 1832.7 1191.5C1834.1 1192.9 1836.0 1193.1 1837.6 1192.0C1839.2 1190.9 1840.4 1188.1 1842.5 1184.7C1844.5 1181.2 1847.3 1175.6 1849.8 1171.3C1852.2 1167.0 1854.6 1164.2 1857.1 1159.1C1859.5 1154.0 1862.2 1147.5 1864.4 1140.8C1866.6 1134.1 1868.5 1125.6 1870.5 1118.9C1872.5 1112.2 1874.5 1105.3 1876.6 1100.6C1878.6 1096.0 1880.6 1093.3 1882.7 1090.9C1884.7 1088.4 1886.8 1086.4 1888.8 1086.0C1890.7 1085.6 1892.5 1085.8 1894.1 1088.4C1895.7 1091.1 1897.2 1096.0 1898.5 1101.8C1899.8 1107.7 1900.9 1117.1 1902.2 1123.8C1903.4 1130.5 1904.6 1138.5 1905.8 1142.0C1907.0 1145.6 1908.3 1145.2 1909.5 1145.2C1910.7 1145.2 1911.9 1144.6 1913.1 1142.0C1914.3 1139.5 1915.6 1134.3 1916.8 1129.9C1918.0 1125.4 1919.0 1119.2 1920.4 1115.2C1921.9 1111.3 1923.5 1108.2 1925.3 1106.2C1927.1 1104.3 1929.2 1103.5 1931.4 1103.5C1933.6 1103.6 1936.1 1105.0 1938.7 1106.7C1941.4 1108.5 1944.6 1111.0 1947.2 1114.0C1949.9 1117.1 1952.3 1120.7 1954.6 1125.0C1956.8 1129.3 1958.8 1134.1 1960.6 1139.6C1962.5 1145.1 1964.1 1151.2 1965.5 1157.9C1966.9 1164.6 1968.0 1171.3 1969.2 1179.8C1970.4 1188.3 1971.6 1199.7 1972.8 1209.1C1974.0 1218.4 1975.5 1229.2 1976.5 1235.9C1977.5 1242.6 1977.7 1247.2 1978.9 1249.3C1980.1 1251.3 1982.2 1250.7 1983.8 1248.0C1985.4 1245.4 1987.0 1237.7 1988.7 1233.4C1990.3 1229.2 1991.7 1224.9 1993.5 1222.5C1995.4 1220.0 1997.6 1218.9 1999.6 1218.8C2001.7 1218.7 2003.5 1220.9 2005.7 1222.0C2008.0 1223.1 2010.4 1224.9 2013.0 1225.4C2015.7 1225.9 2018.9 1225.7 2021.6 1224.9C2024.2 1224.1 2026.4 1221.6 2028.9 1220.8C2031.3 1219.9 2033.7 1219.1 2036.2 1220.0C2038.6 1220.9 2041.3 1222.5 2043.5 1226.1C2045.7 1229.8 2047.8 1235.5 2049.6 1242.0C2051.4 1248.5 2053.0 1259.4 2054.5 1265.1C2055.9 1270.8 2056.9 1274.0 2058.1 1276.1C2059.3 1278.2 2060.3 1278.4 2061.8 1277.8C2063.2 1277.2 2064.8 1275.3 2066.6 1272.4C2068.5 1269.5 2070.7 1264.3 2072.7 1260.2C2074.8 1256.2 2076.8 1251.1 2078.8 1248.0C2080.9 1245.0 2082.7 1243.0 2084.9 1242.0C2087.2 1240.9 2090.2 1242.4 2092.2 1242.0C2094.3 1241.5 2095.7 1241.1 2097.1 1239.5C2098.5 1237.9 2100.1 1233.4 2100.8 1232.2"/>
</g>
<g stroke="#000" stroke-width="2.4" fill="none">
<line x1="1731.3" y1="258.6" x2="1755.2" y2="227.6"/>
<line x1="1729.2" y1="735.6" x2="1786.4" y2="698.5"/>
<line x1="1789.9" y1="1013.2" x2="1867.0" y2="1002.0"/>
</g>
<text transform="translate(626.66 84.90) scale(1.0122 1.0659)" font-size="48" font-weight="bold">F5/L30</text>
<text transform="translate(624.90 572.20) scale(1.0016 1.0689)" font-size="48" font-weight="bold">F2.5/L30</text>
<text transform="translate(637.00 1031.00) scale(1.0011 1.0629)" font-size="48" font-weight="bold">TFEtOH</text>
<text transform="translate(113.61 249.00) scale(0.9944 1.0568)" font-size="54">0.5</text>
<text transform="translate(113.61 721.55) scale(0.9944 1.0568)" font-size="54">0.5</text>
<text transform="translate(113.61 1194.55) scale(0.9944 1.0568)" font-size="54">0.5</text>
<text transform="translate(113.51 512.10) scale(0.9958 1.0568)" font-size="54">0.0</text>
<text transform="translate(113.51 984.60) scale(0.9958 1.0568)" font-size="54">0.0</text>
<text transform="translate(113.51 1457.50) scale(0.9958 1.0568)" font-size="54">0.0</text>
<text transform="translate(69.80 376.55) rotate(-90) scale(1.0045 1.0000)" font-size="55">Absorbance</text>
<text transform="translate(69.80 848.90) rotate(-90) scale(1.0045 1.0000)" font-size="55">Absorbance</text>
<text transform="translate(69.80 1321.55) rotate(-90) scale(1.0045 1.0000)" font-size="55">Absorbance</text>
<text transform="translate(154.90 1511.40) scale(1.0000 1.0130)" font-size="54.8">1800</text>
<text transform="translate(625.90 1511.40) scale(1.0000 1.0130)" font-size="54.8">1600</text>
<text transform="translate(1096.90 1511.40) scale(1.0000 1.0130)" font-size="54.8">1400</text>
<text transform="translate(1567.90 1511.40) scale(1.0000 1.0130)" font-size="54.8">1200</text>
<text transform="translate(2038.90 1511.40) scale(1.0000 1.0130)" font-size="54.8">1000</text>
<text transform="translate(1754.30 217.50) scale(1.0000 1.0170)" font-size="49.0">1159</text>
<text transform="translate(1785.30 688.40) scale(1.0000 1.0170)" font-size="49.0">1159</text>
<text transform="translate(1864.20 1018.80) scale(1.0000 1.0170)" font-size="49.3">1135</text>
<clipPath id="xc"><rect x="800" y="1540" width="760" height="79"/></clipPath>
<g clip-path="url(#xc)"><text transform="translate(890.4 1617.9) scale(0.997 1.012)" font-size="61">Wavenumber (cm<tspan font-size="41" dy="-24.8">-1</tspan><tspan dy="24.8">)</tspan></text></g>
</svg>
</body></html>
